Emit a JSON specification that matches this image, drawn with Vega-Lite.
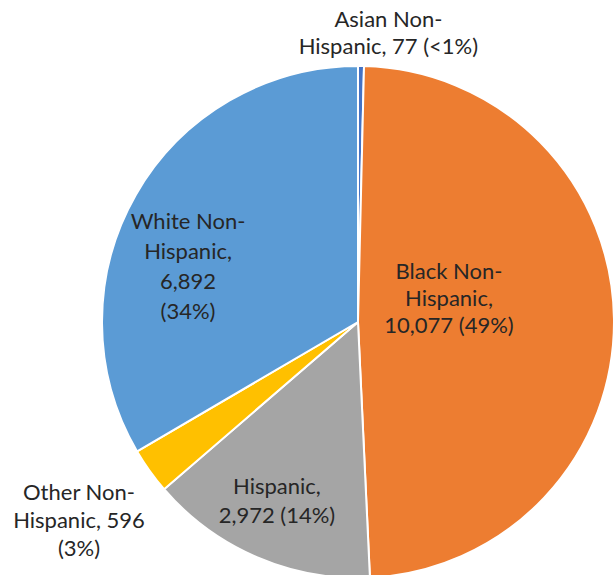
{
  "$schema": "https://vega.github.io/schema/vega-lite/v6.json",
  "width": 512,
  "height": 500,
  "autosize": {"type": "none"},
  "padding": {"left": 102, "top": 72, "right": 0, "bottom": 3},
  "background": "white",
  "view": {"stroke": null},
  "data": {
    "values": [
      {"cat": "Asian Non-Hispanic", "n": 77, "label": ["Asian Non-", "Hispanic, 77 (<1%)"]},
      {"cat": "Black Non-Hispanic", "n": 10077, "label": ["Black Non-", "Hispanic,", "10,077 (49%)"]},
      {"cat": "Hispanic", "n": 2972, "label": ["Hispanic,", "2,972 (14%)"]},
      {"cat": "Other Non-Hispanic", "n": 596, "label": ["Other Non-", "Hispanic, 596", "(3%)"]},
      {"cat": "White Non-Hispanic", "n": 6892, "label": ["White Non-", "Hispanic,", "6,892", "(34%)"]}
    ]
  },
  "encoding": {
    "theta": {"field": "n", "type": "quantitative", "stack": true}
  },
  "layer": [
    {
      "mark": {"type": "arc", "outerRadius": 256, "stroke": "white", "strokeWidth": 2},
      "encoding": {
        "color": {
          "field": "cat",
          "type": "nominal",
          "scale": {
            "domain": ["Asian Non-Hispanic", "Black Non-Hispanic", "Hispanic", "Other Non-Hispanic", "White Non-Hispanic"],
            "range": ["#4472C4", "#ED7D31", "#A5A5A5", "#FFC000", "#5B9BD5"]
          },
          "legend": null
        }
      }
    },
    {
      "mark": {"type": "text", "radius": 289, "dx": 27, "dy": -13, "font": "Lato", "fontSize": 22, "lineHeight": 27, "fill": "#262626", "align": "center", "baseline": "middle"},
      "encoding": {
        "detail": {"field": "cat", "type": "nominal"},
        "text": {"condition": {"test": "datum.cat === 'Asian Non-Hispanic'", "field": "label", "type": "nominal"}, "value": ""}
      }
    },
    {
      "mark": {"type": "text", "radius": 91, "dy": -49, "font": "Lato", "fontSize": 22, "lineHeight": 27, "fill": "#262626", "align": "center", "baseline": "middle"},
      "encoding": {
        "detail": {"field": "cat", "type": "nominal"},
        "text": {"condition": {"test": "datum.cat === 'Black Non-Hispanic'", "field": "label", "type": "nominal"}, "value": ""}
      }
    },
    {
      "mark": {"type": "text", "radius": 195, "dx": -4, "dy": -14, "font": "Lato", "fontSize": 22, "lineHeight": 29, "fill": "#262626", "align": "center", "baseline": "middle"},
      "encoding": {
        "detail": {"field": "cat", "type": "nominal"},
        "text": {"condition": {"test": "datum.cat === 'Hispanic'", "field": "label", "type": "nominal"}, "value": ""}
      }
    },
    {
      "mark": {"type": "text", "radius": 343, "dy": -28, "font": "Lato", "fontSize": 22, "lineHeight": 28, "fill": "#262626", "align": "center", "baseline": "middle"},
      "encoding": {
        "detail": {"field": "cat", "type": "nominal"},
        "text": {"condition": {"test": "datum.cat === 'Other Non-Hispanic'", "field": "label", "type": "nominal"}, "value": ""}
      }
    },
    {
      "mark": {"type": "text", "radius": 174, "dx": -19, "dy": -13, "font": "Lato", "fontSize": 22, "lineHeight": 30, "fill": "#262626", "align": "center", "baseline": "middle"},
      "encoding": {
        "detail": {"field": "cat", "type": "nominal"},
        "text": {"condition": {"test": "datum.cat === 'White Non-Hispanic'", "field": "label", "type": "nominal"}, "value": ""}
      }
    }
  ]
}
